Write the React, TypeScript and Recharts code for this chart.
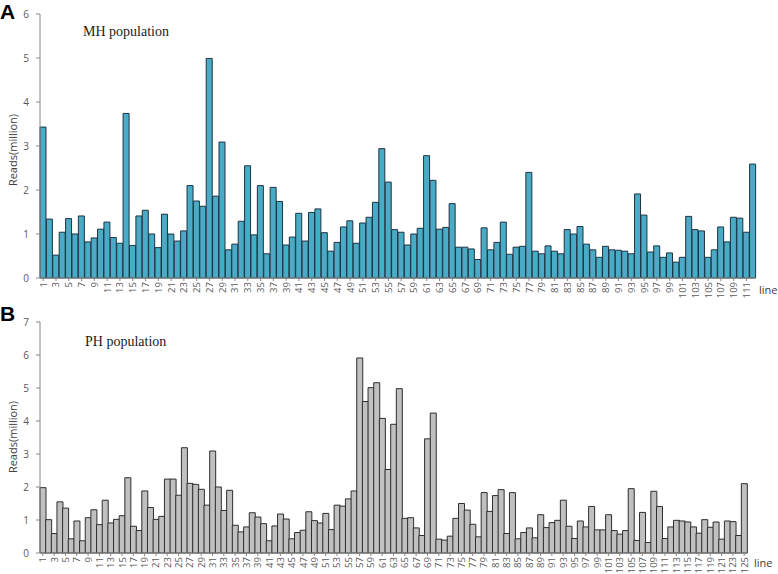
import { BarChart, Bar, XAxis, YAxis } from 'recharts'

// MH population, lines 1..112 (million reads)
const mhReads = [
  3.43, 1.34, 0.52, 1.04, 1.35, 1.0, 1.41, 0.82, 0.91, 1.11,
  1.27, 0.92, 0.79, 3.74, 0.74, 1.41, 1.54, 1.0, 0.69, 1.45,
  1.0, 0.84, 1.07, 2.1, 1.75, 1.63, 4.99, 1.86, 3.09, 0.64,
  0.77, 1.29, 2.55, 0.98, 2.1, 0.55, 2.06, 1.74, 0.75, 0.93,
  1.47, 0.84, 1.49, 1.57, 1.03, 0.61, 0.81, 1.16, 1.3, 0.79,
  1.25, 1.38, 1.72, 2.94, 2.18, 1.1, 1.04, 0.75, 1.0, 1.13,
  2.78, 2.22, 1.11, 1.15, 1.69, 0.7, 0.7, 0.66, 0.42, 1.14,
  0.64, 0.81, 1.27, 0.54, 0.7, 0.72, 2.4, 0.61, 0.55, 0.73,
  0.61, 0.55, 1.1, 1.0, 1.17, 0.77, 0.64, 0.47, 0.72, 0.64,
  0.63, 0.61, 0.55, 1.91, 1.43, 0.59, 0.73, 0.47, 0.57, 0.36,
  0.47, 1.4, 1.1, 1.07, 0.47, 0.64, 1.16, 0.82, 1.38, 1.36,
  1.04, 2.59,
]

// PH population, lines 1..125
const phReads = [
  1.98, 1.01, 0.59, 1.55, 1.36, 0.43, 0.97, 0.37, 1.07, 1.31,
  0.86, 1.6, 0.91, 1.02, 1.13, 2.28, 0.81, 0.68, 1.88, 1.38,
  1.02, 1.11, 2.24, 2.24, 1.75, 3.19, 2.11, 2.08, 1.93, 1.45,
  3.09, 2.0, 1.29, 1.9, 0.84, 0.64, 0.79, 1.22, 1.09, 0.89,
  0.37, 0.82, 1.18, 1.03, 0.43, 0.62, 0.69, 1.25, 0.98, 0.91,
  1.2, 0.71, 1.45, 1.42, 1.64, 1.88, 5.91, 4.59, 5.01, 5.16,
  4.08, 2.53, 3.9, 4.98, 1.05, 1.07, 0.76, 0.53, 3.46, 4.24,
  0.42, 0.39, 0.51, 1.05, 1.5, 1.3, 0.87, 0.49, 1.83, 1.26,
  1.74, 1.92, 0.59, 1.83, 0.43, 0.62, 0.76, 0.46, 1.16, 0.77,
  0.92, 0.99, 1.6, 0.81, 0.44, 0.97, 0.79, 1.41, 0.7, 0.7,
  1.16, 0.68, 0.57, 0.68, 1.95, 0.38, 1.23, 0.32, 1.87, 1.41,
  0.44, 0.79, 0.99, 0.97, 0.94, 0.79, 0.6, 1.01, 0.78, 0.94,
  0.42, 0.97, 0.95, 0.53, 2.1,
]

const mhTicks = [0, 1, 2, 3, 4, 5, 6]
const phTicks = [0, 1, 2, 3, 4, 5, 6, 7]

const mhData = mhReads.map((v, i) => ({ line: String(i + 1), reads: v }))
const phData = phReads.map((v, i) => ({ line: String(i + 1), reads: v }))

const AXIS = '#868686'
const TICK = '#595959'
const SANS = '"Open Sans", "Liberation Sans", Arial, sans-serif'

const abs = (left: number, top: number): React.CSSProperties => ({ position: 'absolute', left, top, whiteSpace: 'nowrap' })

// vertical category label, reading bottom-to-top, hanging just below the axis
function LineTick({ x, y, payload }: any) {
  return (
    <text x={0} y={0} transform={`translate(${x},${y}) rotate(-90)`} textAnchor="end"
      dominantBaseline="central" fontSize={9.5} fill={TICK} fontFamily={SANS}>
      {payload.value}
    </text>
  )
}

function Panel({ data, ticks, max, fill, stroke, top, height, marginTop, xHeight, right }: any) {
  return (
    <div style={{ position: 'absolute', left: 0, top }}>
      <BarChart width={778} height={height} data={data} barCategoryGap={0} barGap={0}
        margin={{ top: marginTop, right, bottom: 0, left: 0 }}>
        <XAxis dataKey="line" interval={1} height={xHeight} tick={<LineTick />} tickSize={3} tickMargin={1}
          axisLine={{ stroke: AXIS }} tickLine={{ stroke: AXIS }} />
        <YAxis domain={[0, max]} ticks={ticks} width={40} tickSize={4} tickMargin={7}
          tick={{ fontSize: 10, fill: TICK, fontFamily: SANS }}
          axisLine={{ stroke: AXIS }} tickLine={{ stroke: AXIS }} />
        <Bar dataKey="reads" fill={fill} stroke={stroke} strokeWidth={1} isAnimationActive={false} />
      </BarChart>
    </div>
  )
}

export default function App() {
  return (
    <div style={{ position: 'fixed', left: 0, top: 0, width: 778, height: 574, background: '#fff', overflow: 'hidden', fontFamily: SANS }}>
      <Panel data={mhData} ticks={mhTicks} max={6} fill="#4aabc6" stroke="#1d3443"
        top={0} height={302} marginTop={14} xHeight={24} right={22} />
      <Panel data={phData} ticks={phTicks} max={7} fill="#c0c0c0" stroke="#2e2e2e"
        top={300} height={274} marginTop={22} xHeight={21} right={31} />

      <div style={{ ...abs(0, 0), fontSize: 21, fontWeight: 'bold', fontFamily: '"Liberation Sans", Arial, sans-serif', lineHeight: '24px' }}>A</div>
      <div style={{ ...abs(0, 302), fontSize: 21, fontWeight: 'bold', fontFamily: '"Liberation Sans", Arial, sans-serif', lineHeight: '24px' }}>B</div>

      <div style={{ ...abs(83, 24), fontSize: 14, fontFamily: '"Liberation Serif", "Times New Roman", serif', color: '#222' }}>MH population</div>
      <div style={{ ...abs(85, 334), fontSize: 14, fontFamily: '"Liberation Serif", "Times New Roman", serif', color: '#222' }}>PH population</div>

      <div style={{ ...abs(12, 150), fontSize: 11, color: '#404040', transform: 'translate(-50%, -50%) rotate(-90deg)' }}>Reads(million)</div>
      <div style={{ ...abs(12, 437), fontSize: 11, color: '#404040', transform: 'translate(-50%, -50%) rotate(-90deg)' }}>Reads(million)</div>

      <div style={{ ...abs(759, 282), fontSize: 11, color: '#404040' }}>line</div>
      <div style={{ ...abs(754, 555), fontSize: 11, color: '#404040' }}>line</div>
    </div>
  )
}
